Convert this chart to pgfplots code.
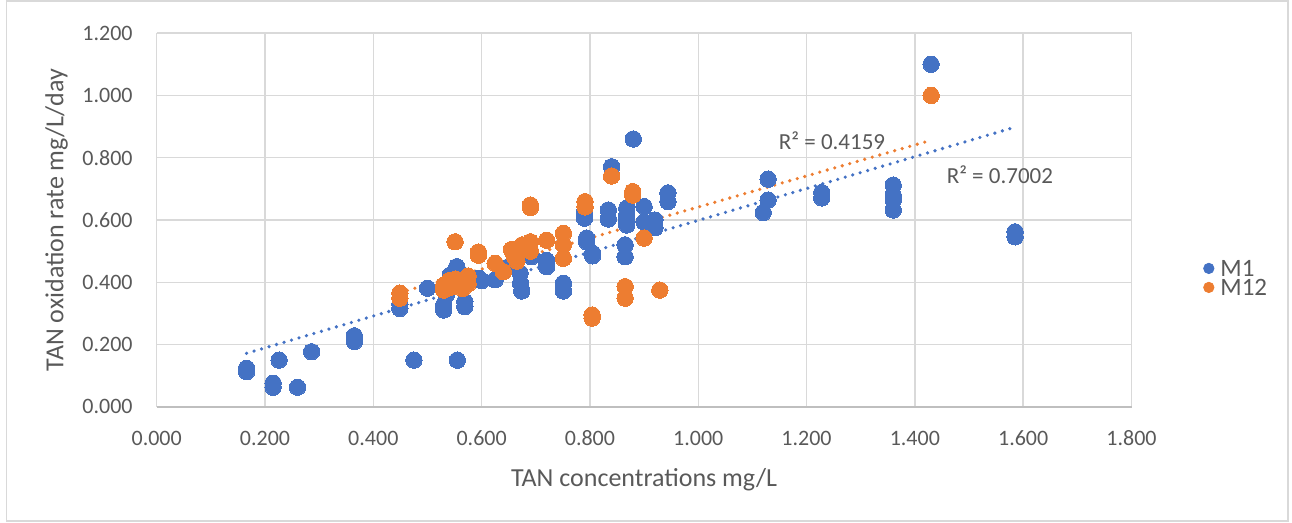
\documentclass[border=0pt]{standalone}
\usepackage{fontspec}
\setmainfont{Carlito}
\usepackage{pgfplots}
\pgfplotsset{compat=1.18}

\definecolor{m1}{HTML}{4472C4}
\definecolor{m12}{HTML}{ED7D31}
\definecolor{txt}{HTML}{595959}
\definecolor{gridc}{HTML}{D9D9D9}
\definecolor{axln}{HTML}{BFBFBF}

% scatter data
\pgfplotstableread{
x y
0.166 0.124
0.166 0.113
0.215 0.076
0.215 0.063
0.226 0.150
0.260 0.063
0.286 0.177
0.365 0.228
0.365 0.210
0.449 0.330
0.449 0.316
0.475 0.150
0.500 0.381
0.530 0.327
0.530 0.311
0.535 0.360
0.540 0.400
0.542 0.423
0.554 0.450
0.555 0.150
0.560 0.430
0.569 0.338
0.569 0.322
0.595 0.413
0.600 0.405
0.625 0.408
0.640 0.440
0.650 0.450
0.671 0.430
0.672 0.397
0.674 0.372
0.692 0.482
0.690 0.500
0.720 0.470
0.720 0.450
0.751 0.397
0.751 0.372
0.751 0.520
0.790 0.625
0.790 0.606
0.794 0.542
0.794 0.530
0.805 0.493
0.805 0.485
0.840 0.771
0.834 0.632
0.834 0.603
0.865 0.520
0.865 0.482
0.868 0.638
0.868 0.616
0.868 0.600
0.868 0.584
0.880 0.860
0.900 0.643
0.900 0.594
0.920 0.600
0.920 0.575
0.944 0.687
0.944 0.659
1.120 0.624
1.129 0.731
1.129 0.664
1.228 0.688
1.228 0.671
1.360 0.712
1.360 0.680
1.360 0.664
1.360 0.632
1.430 1.100
1.585 0.562
1.585 0.546
}\mone

\pgfplotstableread{
x y
0.449 0.365
0.449 0.349
0.530 0.390
0.530 0.375
0.540 0.405
0.545 0.385
0.551 0.530
0.552 0.410
0.555 0.390
0.560 0.400
0.565 0.380
0.570 0.410
0.575 0.420
0.575 0.395
0.594 0.497
0.594 0.487
0.625 0.461
0.640 0.434
0.655 0.505
0.660 0.485
0.665 0.468
0.675 0.520
0.682 0.512
0.690 0.530
0.690 0.500
0.690 0.648
0.690 0.640
0.720 0.535
0.751 0.557
0.751 0.520
0.751 0.477
0.791 0.659
0.791 0.642
0.804 0.295
0.804 0.285
0.840 0.741
0.865 0.386
0.865 0.349
0.879 0.691
0.879 0.680
0.900 0.542
0.929 0.375
1.430 1.000
}\mtwelve

\begin{document}
\begin{tikzpicture}
\path[use as bounding box] (0,0) rectangle (646pt,261.5pt);
\draw[gridc, line width=0.6pt] (3.4pt,1pt) rectangle (644pt,261pt);
\begin{axis}[
    at={(78.35pt,58.05pt)}, anchor=south west,
    scale only axis,
    width=487.4pt, height=186.9pt,
    xmin=0, xmax=1.8, ymin=0, ymax=1.2,
    xtick={0,0.2,0.4,0.6,0.8,1.0,1.2,1.4,1.6,1.8},
    ytick={0,0.2,0.4,0.6,0.8,1.0,1.2},
    scaled ticks=false,
    axis x line*=bottom, axis y line*=left,
    x axis line style={axln, line width=1pt},
    y axis line style={draw=none},
    major tick length=0pt,
    grid=major,
    grid style={gridc, line width=0.75pt},
    tick label style={font=\fontsize{11}{12}\selectfont, text=txt},
    xticklabel style={/pgf/number format/fixed, /pgf/number format/fixed zerofill,
        /pgf/number format/precision=3, /pgf/number format/assume math mode=true,
        yshift=-8.5pt},
    yticklabel style={/pgf/number format/fixed, /pgf/number format/fixed zerofill,
        /pgf/number format/precision=3, /pgf/number format/assume math mode=true,
        xshift=-8.5pt},
    xlabel={TAN concentrations mg/L},
    ylabel={TAN oxidation rate mg/L/day},
    label style={font=\fontsize{13}{15}\selectfont, text=txt},
    xlabel style={at={(axis description cs:0.5,-0.1953)}, anchor=center},
    ylabel style={at={(axis description cs:-0.1026,0.5)}, anchor=center},
    legend style={at={(axis description cs:1.067,0.345)}, anchor=west,
        draw=none, fill=none, font=\fontsize{12.5}{14}\selectfont, text=txt,
        nodes={inner sep=0.5pt, text height=8pt, text depth=0pt},
        row sep=0.5pt, column sep=2.5pt},
    legend cell align=left,
    legend image code/.code={\fill[#1] (0pt,0pt) circle (2.6pt);},
]
\addlegendimage{m1}
\addlegendentry{M1}
\addlegendimage{m12}
\addlegendentry{M12}

\addplot[only marks, mark=*, mark size=4.1pt, mark options={draw=m1, fill=m1, line width=0pt}, forget plot]
    table[x=x, y=y] {\mone};
\addplot[only marks, mark=*, mark size=4.1pt, mark options={draw=m12, fill=m12, line width=0pt}, forget plot]
    table[x=x, y=y] {\mtwelve};

% linear trendlines (end points as drawn)
\addplot[m1, line width=1.8pt, line cap=round, dash pattern=on 0pt off 3.9pt, forget plot]
    coordinates {(0.166,0.172) (1.585,0.898)};
\addplot[m12, line width=1.8pt, line cap=round, dash pattern=on 0pt off 3.9pt, forget plot]
    coordinates {(0.449,0.367) (1.430,0.856)};

\node[text=txt, font=\fontsize{11.5}{13}\selectfont] at (axis cs:1.247,0.854) {R² = 0.4159};
\node[text=txt, font=\fontsize{11.5}{13}\selectfont] at (axis cs:1.557,0.745) {R² = 0.7002};
\end{axis}
\end{tikzpicture}
\end{document}
